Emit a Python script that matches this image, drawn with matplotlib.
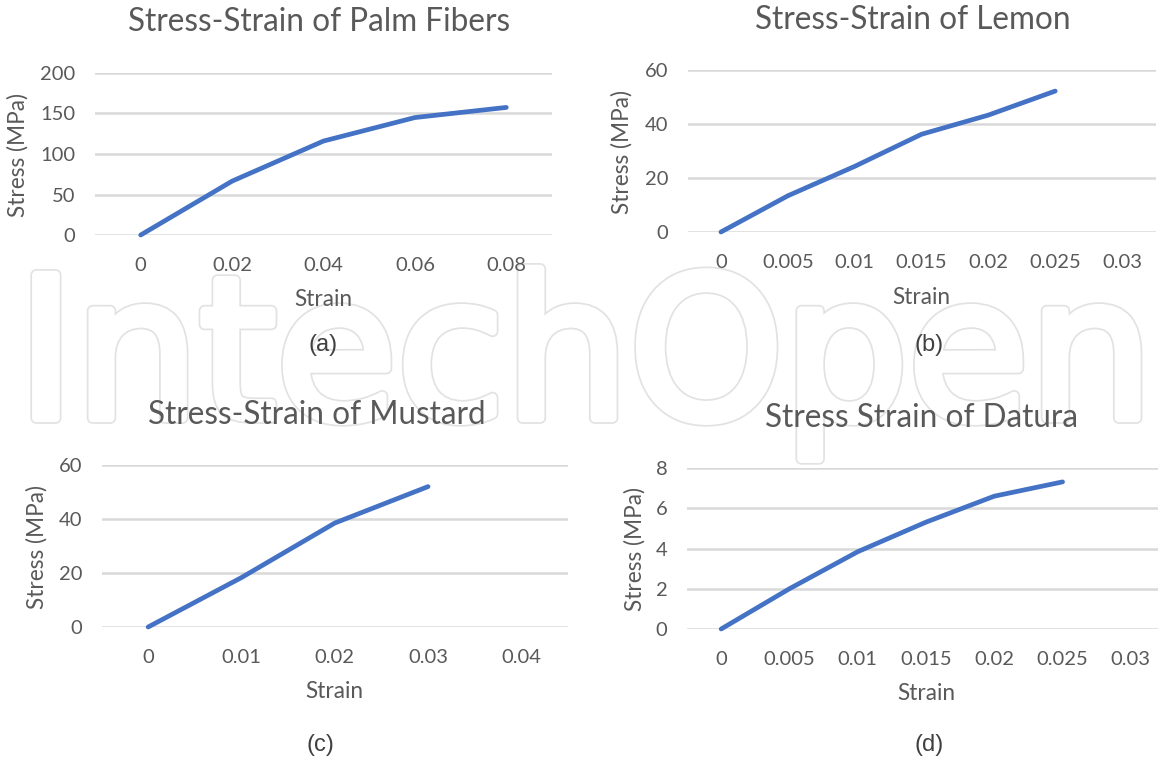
import matplotlib
matplotlib.use("Agg")
import matplotlib.pyplot as plt
import matplotlib.patheffects as pe
import numpy as np

# Canvas size in pixels (dpi 100)
W, H = 1158, 760

# ------------------------------------------------------------------
# Measured stress-strain data
# ------------------------------------------------------------------
palm_strain = [0, 0.02, 0.04, 0.06, 0.08]
palm_stress = [0, 66.5, 116, 145, 157.5]

lemon_strain = [0, 0.005, 0.01, 0.015, 0.02, 0.025]
lemon_stress = [0, 13.4, 24.3, 36.2, 43.3, 52.2]

mustard_strain = [0, 0.01, 0.02, 0.03]
mustard_stress = [0, 18.3, 38.5, 52.0]

datura_strain = [0, 0.005, 0.01, 0.015, 0.02, 0.025]
datura_stress = [0, 2.0, 3.84, 5.31, 6.6, 7.31]

# Axis categories shown on each chart
palm_xticks = [0, 0.02, 0.04, 0.06, 0.08]
lemon_xticks = [0, 0.005, 0.01, 0.015, 0.02, 0.025, 0.03]
mustard_xticks = [0, 0.01, 0.02, 0.03, 0.04]
datura_xticks = [0, 0.005, 0.01, 0.015, 0.02, 0.025, 0.03]

palm_yticks = [0, 50, 100, 150, 200]
lemon_yticks = [0, 20, 40, 60]
mustard_yticks = [0, 20, 40, 60]
datura_yticks = [0, 2, 4, 6, 8]

titles = ["Stress-Strain of Palm Fibers", "Stress-Strain of Lemon",
          "Stress-Strain of Mustard", "Stress Strain of Datura"]
captions = ["(a)", "(b)", "(c)", "(d)"]

LINE_COLOR = "#4472C4"
TEXT_COLOR = "#595959"
GRID_COLOR = "#D9D9D9"
FONT = "Lato"

plt.rcParams["font.family"] = [FONT, "DejaVu Sans"]


def fx(x):
    return x / W


def fy(y):
    return 1 - y / H


# Layout of each panel in pixels:
# plot box (left, right, top, bottom), title, x label, y label, caption centres
layout = [
    dict(box=(95, 552, 73, 235), title=(319, 22), xlab=(323, 300),
         ylab=(18, 155), cap=(323, 345)),
    dict(box=(687.5, 1155.5, 70, 232), title=(913, 20), xlab=(921, 298),
         ylab=(622, 152), cap=(929, 345)),
    dict(box=(101.5, 568, 465, 627), title=(317, 415), xlab=(334, 692),
         ylab=(37, 547), cap=(320, 745)),
    dict(box=(687, 1165, 468, 629), title=(921, 418), xlab=(926, 694),
         ylab=(635, 549), cap=(929, 745)),
]

series = [
    (palm_strain, palm_stress, palm_xticks, palm_yticks),
    (lemon_strain, lemon_stress, lemon_xticks, lemon_yticks),
    (mustard_strain, mustard_stress, mustard_xticks, mustard_yticks),
    (datura_strain, datura_stress, datura_xticks, datura_yticks),
]

fig = plt.figure(figsize=(W / 100, H / 100), dpi=100)
fig.patch.set_facecolor("white")

# Publisher watermark, outlined letters behind the charts
wm = fig.text(fx(17), fy(418), "IntechOpen", fontsize=160, family="DejaVu Sans",
              color="white", ha="left", va="baseline", zorder=-5)
wm.set_path_effects([
    pe.Stroke(linewidth=8.5, foreground="#E2E2E2"),
    pe.Stroke(linewidth=6.0, foreground="white"),
    pe.Normal(),
])
renderer = fig.canvas.get_renderer()
wm_width = wm.get_window_extent(renderer).width
wm.set_fontsize(160 * 1136 / wm_width)

for (xs, ys, xt, yt), lay, title, cap in zip(series, layout, titles, captions):
    left, right, top, bottom = lay["box"]
    ax = fig.add_axes([fx(left), fy(bottom), (right - left) / W, (bottom - top) / H])
    ax.set_facecolor("none")

    step = xt[1] - xt[0]
    ax.set_xlim(xt[0] - step / 2, xt[-1] + step / 2)
    ax.set_ylim(yt[0], yt[-1])

    ax.set_yticks(yt)
    ax.set_xticks(xt)
    ax.set_xticklabels([f"{v:g}" for v in xt])
    ax.grid(axis="y", color=GRID_COLOR, linewidth=1.8)
    ax.set_axisbelow(True)
    for s in ax.spines.values():
        s.set_visible(False)
    ax.tick_params(length=0, labelsize=14.5, labelcolor=TEXT_COLOR)
    ax.tick_params(axis="y", pad=14)
    ax.tick_params(axis="x", pad=16)

    ax.plot(xs, ys, color=LINE_COLOR, linewidth=3.4, solid_capstyle="round",
            solid_joinstyle="round", clip_on=False)

    fig.text(fx(lay["title"][0]), fy(lay["title"][1]), title, fontsize=22.7,
             color=TEXT_COLOR, ha="center", va="center")
    fig.text(fx(lay["xlab"][0]), fy(lay["xlab"][1]), "Strain", fontsize=16.3,
             color=TEXT_COLOR, ha="center", va="center")
    fig.text(fx(lay["ylab"][0]), fy(lay["ylab"][1]), "Stress (MPa)", fontsize=16.3,
             color=TEXT_COLOR, ha="center", va="center", rotation=90)
    fig.text(fx(lay["cap"][0]), fy(lay["cap"][1]), cap, fontsize=17,
             family="Liberation Sans", color="#404040", ha="center", va="center")

fig.savefig("out.png", dpi=100, facecolor="white")
